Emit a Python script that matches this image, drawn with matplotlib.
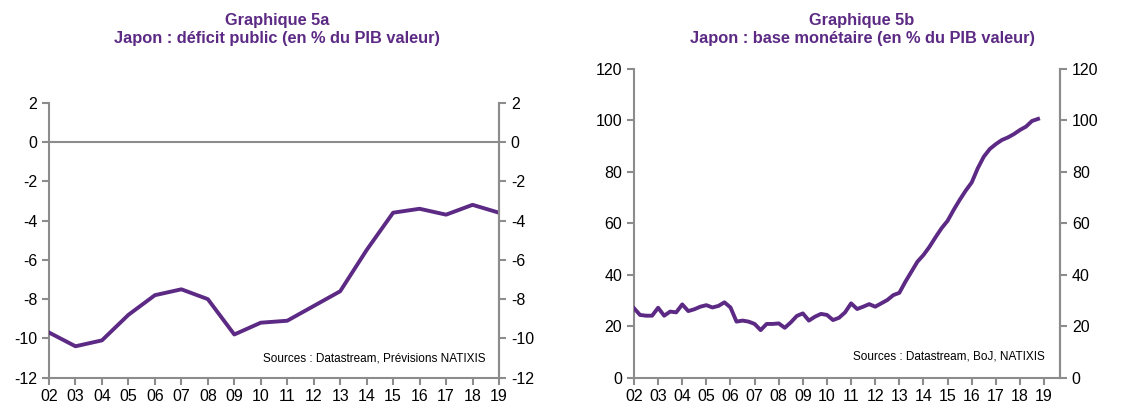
import matplotlib
matplotlib.use("Agg")
import matplotlib.pyplot as plt
import numpy as np

plt.rcParams['font.family'] = ['Liberation Sans', 'DejaVu Sans']
plt.rcParams['axes.unicode_minus'] = False

PURPLE = '#5c2a84'
GREY = '#8c8c8c'

# Graphique 5a : deficit public (annuel)
years_a = np.arange(2002, 2020)
deficit = [-9.7, -10.4, -10.1, -8.8, -7.8, -7.5, -8.0, -9.8, -9.2, -9.1,
           -8.35, -7.6, -5.5, -3.6, -3.4, -3.7, -3.2, -3.6]

# Graphique 5b : base monetaire (trimestriel, 2002T1 -> 2018T4)
base_mon = [27.0, 24.4, 24.1, 24.1, 27.2, 24.1, 25.7, 25.4,
            28.5, 25.9, 26.6, 27.6, 28.2, 27.3, 27.9, 29.3,
            27.3, 21.8, 22.2, 21.8, 20.9, 18.5, 20.9, 20.9,
            21.1, 19.4, 21.5, 24.0, 25.0, 22.2, 23.7, 24.8,
            24.4, 22.4, 23.3, 25.4, 28.9, 26.7, 27.6, 28.6,
            27.6, 28.9, 30.2, 32.1, 33.0, 37.3, 41.2, 45.1,
            47.7, 50.9, 54.6, 58.1, 61.0, 65.2, 69.1, 72.7,
            75.9, 81.4, 85.9, 88.9, 90.8, 92.4, 93.4, 94.7,
            96.3, 97.6, 99.8, 100.6]
quarters_b = 2002 + np.arange(len(base_mon)) * 0.25

year_labels = ['%02d' % (y % 100) for y in range(2002, 2020)]


def style_axes(ax, ymin, ymax, ystep, xmax):
    ax.set_xlim(2002, xmax)
    ax.set_ylim(ymin, ymax)
    ax.set_xticks(np.arange(2002, 2020))
    ax.set_xticklabels(year_labels)
    ax.set_yticks(np.arange(ymin, ymax + 1, ystep))
    ax.spines['top'].set_visible(False)
    for s in ['left', 'right', 'bottom']:
        ax.spines[s].set_color(GREY)
        ax.spines[s].set_linewidth(1.5)
    ax.tick_params(axis='both', colors=GREY, width=1.5, length=5,
                   labelcolor='black', labelsize=11.5)
    ax.tick_params(axis='x', pad=3)
    ax2 = ax.twinx()
    ax2.set_ylim(ymin, ymax)
    ax2.set_yticks(np.arange(ymin, ymax + 1, ystep))
    for s in ['top', 'left', 'bottom']:
        ax2.spines[s].set_visible(False)
    ax2.spines['right'].set_color(GREY)
    ax2.spines['right'].set_linewidth(1.5)
    ax2.tick_params(axis='y', colors=GREY, width=1.5, length=5,
                    labelcolor='black', labelsize=11.5)
    return ax2


fig = plt.figure(figsize=(11.36, 4.05), dpi=100)

# --- 5a
ax_a = fig.add_axes([49 / 1136, 27.3 / 405, 450 / 1136, 275 / 405])
style_axes(ax_a, -12, 2, 2, 2019)
ax_a.axhline(0, color=GREY, lw=1.5, zorder=1)
ax_a.plot(years_a, deficit, color=PURPLE, lw=2.8, solid_joinstyle='round', zorder=3)
ax_a.text(0.97, 0.07, 'Sources : Datastream, Prévisions NATIXIS',
          transform=ax_a.transAxes, ha='right', va='center', fontsize=8.5)

# --- 5b
ax_b = fig.add_axes([634 / 1136, 27.3 / 405, 426 / 1136, 308.7 / 405])
style_axes(ax_b, 0, 120, 20, 2019.66)
ax_b.plot(quarters_b, base_mon, color=PURPLE, lw=2.8, solid_joinstyle='round', zorder=3)
ax_b.text(0.965, 0.07, 'Sources : Datastream, BoJ, NATIXIS',
          transform=ax_b.transAxes, ha='right', va='center', fontsize=8.5)

# titres
for xc, t1, t2 in [(277, 'Graphique 5a', 'Japon : déficit public (en % du PIB valeur)'),
                   (862, 'Graphique 5b', 'Japon : base monétaire (en % du PIB valeur)')]:
    fig.text(xc / 1136, 1 - 20.5 / 405, t1, ha='center', va='center',
             fontsize=11.8, fontweight='bold', color=PURPLE)
    fig.text(xc / 1136, 1 - 38.5 / 405, t2, ha='center', va='center',
             fontsize=11.8, fontweight='bold', color=PURPLE)

fig.savefig('out.png', dpi=100)
